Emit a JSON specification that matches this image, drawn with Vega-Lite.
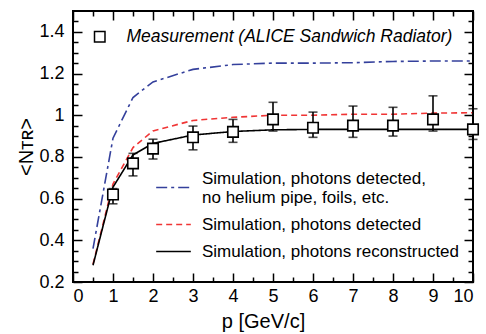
{
  "$schema": "https://vega.github.io/schema/vega-lite/v6.json",
  "width": 400,
  "height": 271,
  "autosize": {"type": "none"},
  "padding": {"left": 73, "top": 11, "right": 13, "bottom": 52},
  "background": "white",
  "config": {
    "font": "Liberation Sans",
    "view": {"stroke": "black", "strokeWidth": 2},
    "axis": {"domain": false, "grid": false, "tickColor": "black", "tickWidth": 1.5, "labelColor": "black", "titleColor": "black", "labelFont": "Liberation Sans", "titleFont": "Liberation Sans", "titleFontWeight": "normal"},
    "legend": {"labelFont": "Liberation Sans", "labelColor": "black", "labelLimit": 0}
  },
  "datasets": {
    "sim": [
      {"series": "Simulation, photons detected, no helium pipe, foils, etc.", "p": 0.5, "v": 0.36},
      {"series": "Simulation, photons detected, no helium pipe, foils, etc.", "p": 1, "v": 0.89},
      {"series": "Simulation, photons detected, no helium pipe, foils, etc.", "p": 1.5, "v": 1.085},
      {"series": "Simulation, photons detected, no helium pipe, foils, etc.", "p": 2, "v": 1.16},
      {"series": "Simulation, photons detected, no helium pipe, foils, etc.", "p": 3, "v": 1.22},
      {"series": "Simulation, photons detected, no helium pipe, foils, etc.", "p": 4, "v": 1.243},
      {"series": "Simulation, photons detected, no helium pipe, foils, etc.", "p": 5, "v": 1.25},
      {"series": "Simulation, photons detected, no helium pipe, foils, etc.", "p": 6, "v": 1.25},
      {"series": "Simulation, photons detected, no helium pipe, foils, etc.", "p": 7, "v": 1.252},
      {"series": "Simulation, photons detected, no helium pipe, foils, etc.", "p": 8, "v": 1.258},
      {"series": "Simulation, photons detected, no helium pipe, foils, etc.", "p": 9, "v": 1.26},
      {"series": "Simulation, photons detected, no helium pipe, foils, etc.", "p": 10, "v": 1.26},
      {"series": "Simulation, photons detected", "p": 0.5, "v": 0.285},
      {"series": "Simulation, photons detected", "p": 1, "v": 0.67},
      {"series": "Simulation, photons detected", "p": 1.5, "v": 0.845},
      {"series": "Simulation, photons detected", "p": 2, "v": 0.925},
      {"series": "Simulation, photons detected", "p": 3, "v": 0.975},
      {"series": "Simulation, photons detected", "p": 4, "v": 0.99},
      {"series": "Simulation, photons detected", "p": 5, "v": 1.0},
      {"series": "Simulation, photons detected", "p": 6, "v": 1.0},
      {"series": "Simulation, photons detected", "p": 7, "v": 1.005},
      {"series": "Simulation, photons detected", "p": 8, "v": 1.005},
      {"series": "Simulation, photons detected", "p": 9, "v": 1.01},
      {"series": "Simulation, photons detected", "p": 10, "v": 1.012},
      {"series": "Simulation, photons reconstructed", "p": 0.5, "v": 0.28},
      {"series": "Simulation, photons reconstructed", "p": 1, "v": 0.655},
      {"series": "Simulation, photons reconstructed", "p": 1.5, "v": 0.81},
      {"series": "Simulation, photons reconstructed", "p": 2, "v": 0.865},
      {"series": "Simulation, photons reconstructed", "p": 3, "v": 0.905},
      {"series": "Simulation, photons reconstructed", "p": 4, "v": 0.922},
      {"series": "Simulation, photons reconstructed", "p": 5, "v": 0.93},
      {"series": "Simulation, photons reconstructed", "p": 6, "v": 0.932},
      {"series": "Simulation, photons reconstructed", "p": 7, "v": 0.932},
      {"series": "Simulation, photons reconstructed", "p": 8, "v": 0.932},
      {"series": "Simulation, photons reconstructed", "p": 9, "v": 0.932},
      {"series": "Simulation, photons reconstructed", "p": 10, "v": 0.932}
    ],
    "meas": [
      {"kind": "Measurement (ALICE Sandwich Radiator)", "p": 1, "v": 0.62, "lo": 0.575, "hi": 0.648},
      {"kind": "Measurement (ALICE Sandwich Radiator)", "p": 1.5, "v": 0.769, "lo": 0.709, "hi": 0.817},
      {"kind": "Measurement (ALICE Sandwich Radiator)", "p": 2, "v": 0.84, "lo": 0.79, "hi": 0.885},
      {"kind": "Measurement (ALICE Sandwich Radiator)", "p": 3, "v": 0.894, "lo": 0.834, "hi": 0.948},
      {"kind": "Measurement (ALICE Sandwich Radiator)", "p": 4, "v": 0.92, "lo": 0.87, "hi": 0.98},
      {"kind": "Measurement (ALICE Sandwich Radiator)", "p": 5, "v": 0.98, "lo": 0.924, "hi": 1.062},
      {"kind": "Measurement (ALICE Sandwich Radiator)", "p": 6, "v": 0.94, "lo": 0.894, "hi": 1.015},
      {"kind": "Measurement (ALICE Sandwich Radiator)", "p": 7, "v": 0.95, "lo": 0.894, "hi": 1.044},
      {"kind": "Measurement (ALICE Sandwich Radiator)", "p": 8, "v": 0.95, "lo": 0.9, "hi": 1.038},
      {"kind": "Measurement (ALICE Sandwich Radiator)", "p": 9, "v": 0.98, "lo": 0.924, "hi": 1.093},
      {"kind": "Measurement (ALICE Sandwich Radiator)", "p": 10, "v": 0.932, "lo": 0.884, "hi": 1.031}
    ]
  },
  "resolve": {"axis": {"x": "independent", "y": "independent"}},
  "layer": [
    {
      "data": {"name": "sim"},
      "mark": {"type": "line", "strokeWidth": 1.6},
      "encoding": {
        "x": {"field": "p", "type": "quantitative", "scale": {"domain": [0, 10], "nice": false, "zero": false},
          "axis": {"orient": "bottom", "values": [0,1,2,3,4,5,6,7,8,9,10], "tickSize": -9, "labelFontSize": 18, "labelPadding": 14, "title": "p [GeV/c]", "titleFontSize": 20, "titlePadding": 6, "titleX": 190}},
        "y": {"field": "v", "type": "quantitative", "scale": {"domain": [0.2, 1.5], "nice": false, "zero": false},
          "axis": {"orient": "left", "values": [0.2,0.4,0.6,0.8,1,1.2,1.4], "format": "~g", "tickSize": -9, "labelFontSize": 18, "labelPadding": 18, "title": "<Nᴛʀ>", "titleFontSize": 20, "titlePadding": 2}},
        "color": {"field": "series", "type": "nominal",
          "scale": {"domain": ["Simulation, photons detected, no helium pipe, foils, etc.", "Simulation, photons detected", "Simulation, photons reconstructed"], "range": ["#34409c", "#f03535", "#000000"]},
          "legend": {"orient": "none", "legendX": 82, "legendY": 158, "title": null, "symbolType": "stroke", "symbolSize": 1200, "symbolStrokeWidth": 1.6, "labelFontSize": 17, "labelOffset": 10, "rowPadding": 0, "labelExpr": "datum.label == 'Simulation, photons detected, no helium pipe, foils, etc.' ? ['Simulation, photons detected,', 'no helium pipe, foils, etc.'] : datum.label",
            "encode": {"labels": {"update": {"dy": {"signal": "datum.label == 'Simulation, photons detected, no helium pipe, foils, etc.' ? -9 : 0"}}}}}},
        "strokeDash": {"field": "series", "type": "nominal",
          "scale": {"domain": ["Simulation, photons detected, no helium pipe, foils, etc.", "Simulation, photons detected", "Simulation, photons reconstructed"], "range": [[11, 4, 3, 4], [6, 4], [1, 0]]},
          "legend": {"orient": "none", "legendX": 82, "legendY": 158, "title": null, "symbolType": "stroke", "symbolSize": 1200, "symbolStrokeWidth": 1.6, "labelFontSize": 17, "labelOffset": 10, "rowPadding": 0, "labelExpr": "datum.label == 'Simulation, photons detected, no helium pipe, foils, etc.' ? ['Simulation, photons detected,', 'no helium pipe, foils, etc.'] : datum.label",
            "encode": {"labels": {"update": {"dy": {"signal": "datum.label == 'Simulation, photons detected, no helium pipe, foils, etc.' ? -9 : 0"}}}}}}
      }
    },
    {
      "data": {"name": "meas"},
      "mark": {"type": "rule", "color": "black", "strokeWidth": 1.6},
      "encoding": {
        "x": {"field": "p", "type": "quantitative", "scale": {"domain": [0, 10], "nice": false, "zero": false},
          "axis": {"orient": "top", "values": [0,1,2,3,4,5,6,7,8,9,10], "tickSize": -9, "labels": false, "title": null}},
        "y": {"field": "lo", "type": "quantitative", "scale": {"domain": [0.2, 1.5], "nice": false, "zero": false},
          "axis": {"orient": "right", "values": [0.2,0.4,0.6,0.8,1,1.2,1.4], "tickSize": -9, "labels": false, "title": null}},
        "y2": {"field": "hi"}
      }
    },
    {
      "data": {"name": "meas"},
      "mark": {"type": "tick", "color": "black", "thickness": 1.6, "size": 9, "orient": "horizontal"},
      "encoding": {
        "x": {"field": "p", "type": "quantitative", "scale": {"domain": [0, 10], "nice": false, "zero": false},
          "axis": {"orient": "bottom", "values": [0.5,1.5,2.5,3.5,4.5,5.5,6.5,7.5,8.5,9.5], "tickSize": -5, "labels": false, "title": null}},
        "y": {"field": "lo", "type": "quantitative", "scale": {"domain": [0.2, 1.5], "nice": false, "zero": false},
          "axis": {"orient": "left", "values": [0.25,0.3,0.35,0.45,0.5,0.55,0.65,0.7,0.75,0.85,0.9,0.95,1.05,1.1,1.15,1.25,1.3,1.35,1.45], "tickSize": -5, "labels": false, "title": null}}
      }
    },
    {
      "data": {"name": "meas"},
      "mark": {"type": "tick", "color": "black", "thickness": 1.6, "size": 9, "orient": "horizontal"},
      "encoding": {
        "x": {"field": "p", "type": "quantitative", "scale": {"domain": [0, 10], "nice": false, "zero": false},
          "axis": {"orient": "top", "values": [0.5,1.5,2.5,3.5,4.5,5.5,6.5,7.5,8.5,9.5], "tickSize": -5, "labels": false, "title": null}},
        "y": {"field": "hi", "type": "quantitative", "scale": {"domain": [0.2, 1.5], "nice": false, "zero": false},
          "axis": {"orient": "right", "values": [0.25,0.3,0.35,0.45,0.5,0.55,0.65,0.7,0.75,0.85,0.9,0.95,1.05,1.1,1.15,1.25,1.3,1.35,1.45], "tickSize": -5, "labels": false, "title": null}}
      }
    },
    {
      "data": {"name": "meas"},
      "mark": {"type": "point", "shape": "square", "size": 110, "fill": "white", "stroke": "black", "strokeWidth": 1.6, "opacity": 1, "filled": true},
      "encoding": {
        "x": {"field": "p", "type": "quantitative", "axis": null},
        "y": {"field": "v", "type": "quantitative", "axis": null},
        "shape": {"field": "kind", "type": "nominal", "scale": {"range": ["square"]},
          "legend": {"orient": "none", "legendX": 18, "legendY": 17, "title": null, "symbolType": "square", "symbolSize": 110, "labelFontSize": 17.5, "labelFontStyle": "italic", "labelOffset": 18,
            "encode": {"symbols": {"update": {"fill": {"value": "white"}, "stroke": {"value": "black"}, "strokeWidth": {"value": 1.6}, "opacity": {"value": 1}, "fillOpacity": {"value": 1}, "strokeOpacity": {"value": 1}}}}}}
      }
    }
  ]
}
